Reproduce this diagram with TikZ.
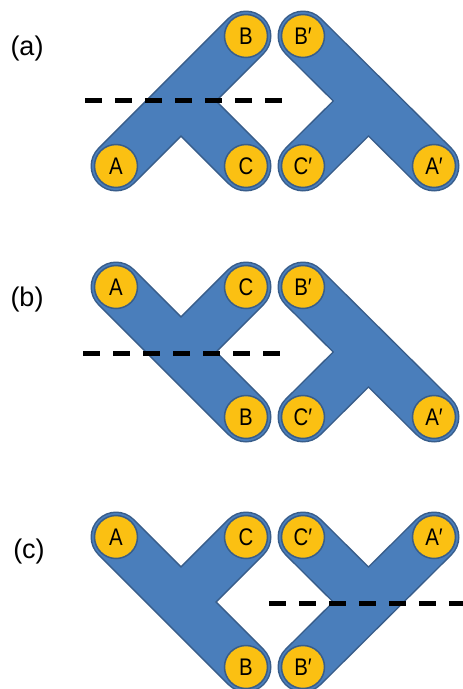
\documentclass[tikz,border=0pt]{standalone}
\usepackage{fontspec}
\setmainfont{Liberation Sans}
\newfontfamily\lblfont[FakeStretch=0.85]{Liberation Sans}
\usetikzlibrary{backgrounds}
\definecolor{bandblue}{HTML}{4A7EBB}
\definecolor{edgeblue}{HTML}{385D8A}
\definecolor{ballyellow}{HTML}{FBC012}
\tikzset{
  ball/.style={circle, fill=ballyellow, draw=edgeblue, line width=1.5pt,
    minimum size=43pt, inner sep=0pt, font=\lblfont\fontsize{24}{24}\selectfont},
  bandedge/.style={draw=edgeblue, line width=51pt, line cap=round},
  bandfill/.style={draw=bandblue, line width=48pt, line cap=round},
  cutline/.style={draw=black, line width=5pt, dash pattern=on 17pt off 13pt},
  panellabel/.style={font=\fontsize{27}{27}\selectfont, inner sep=0pt}
}
\begin{document}
\begin{tikzpicture}[x=1pt,y=-1pt]
\useasboundingbox (0,0) rectangle (463,689);

% ---------- panel (a)
\node[panellabel] (la) at (27,49) {(a)};
\node[ball] (aA) at (116,166) {A};
\node[ball] (aB) at (246,36) {B};
\node[ball] (aC) at (246,166) {C};
\node[ball] (aBp) at (303,36) {B′};
\node[ball] (aCp) at (303,166) {C′};
\node[ball] (aAp) at (434,166) {A′};
\coordinate (aM) at (181,101);
\coordinate (aMp) at (368.5,101);
\begin{pgfonlayer}{background}
  \path[bandedge] (aA.center) -- (aB.center) (aC.center) -- (aM)
                  (aBp.center) -- (aAp.center) (aCp.center) -- (aMp);
  \path[bandfill] (aA.center) -- (aB.center) (aC.center) -- (aM)
                  (aBp.center) -- (aAp.center) (aCp.center) -- (aMp);
\end{pgfonlayer}
\coordinate (cutaL) at (85,100);
\coordinate (cutaR) at (283,100);
\path[cutline] (cutaL) -- (cutaR);

% ---------- panel (b)
\begin{scope}[shift={(0,251)}]
\node[panellabel] (lb) at (27,49) {(b)};
\node[ball] (bA) at (116,36) {A};
\node[ball] (bC) at (246,36) {C};
\node[ball] (bB) at (246,166) {B};
\node[ball] (bBp) at (303,36) {B′};
\node[ball] (bCp) at (303,166) {C′};
\node[ball] (bAp) at (434,166) {A′};
\coordinate (bM) at (181,101);
\coordinate (bMp) at (368.5,101);
\begin{pgfonlayer}{background}
  \path[bandedge] (bA.center) -- (bB.center) (bC.center) -- (bM)
                  (bBp.center) -- (bAp.center) (bCp.center) -- (bMp);
  \path[bandfill] (bA.center) -- (bB.center) (bC.center) -- (bM)
                  (bBp.center) -- (bAp.center) (bCp.center) -- (bMp);
\end{pgfonlayer}
\coordinate (cutbL) at (83,102);
\coordinate (cutbR) at (281,102);
\path[cutline] (cutbL) -- (cutbR);
\end{scope}

% ---------- panel (c)
\begin{scope}[shift={(0,501)}]
\node[panellabel] (lc) at (29,51) {(c)};
\node[ball] (cA) at (116,36) {A};
\node[ball] (cC) at (246,36) {C};
\node[ball] (cB) at (246,166) {B};
\node[ball] (cCp) at (303,36) {C′};
\node[ball] (cAp) at (434,36) {A′};
\node[ball] (cBp) at (303,166) {B′};
\coordinate (cM) at (181,101);
\coordinate (cMp) at (368.5,101);
\begin{pgfonlayer}{background}
  \path[bandedge] (cA.center) -- (cB.center) (cC.center) -- (cM)
                  (cAp.center) -- (cBp.center) (cCp.center) -- (cMp);
  \path[bandfill] (cA.center) -- (cB.center) (cC.center) -- (cM)
                  (cAp.center) -- (cBp.center) (cCp.center) -- (cMp);
\end{pgfonlayer}
\coordinate (cutcL) at (269,102);
\coordinate (cutcR) at (463,102);
\path[cutline] (cutcL) -- (cutcR);
\end{scope}
\end{tikzpicture}
\end{document}
